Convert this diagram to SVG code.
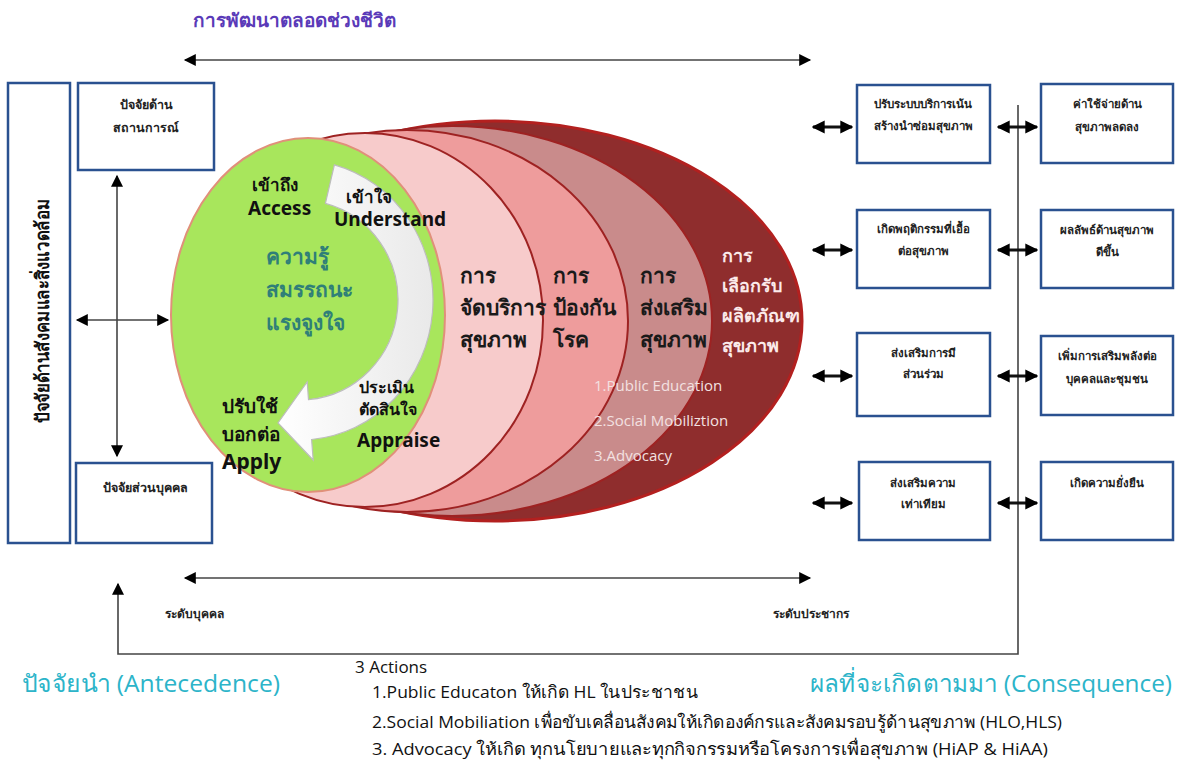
<svg xmlns="http://www.w3.org/2000/svg" width="1179" height="764" viewBox="0 0 1179 764">
<defs>
<style>
.box{fill:#fff;stroke:#2a5190;stroke-width:2.5}
.bt{font-family:"Noto Sans","DejaVu Sans",sans-serif;font-size:11.5px;font-weight:bold;fill:#222;text-anchor:middle}
.lb{font-family:"Noto Sans","DejaVu Sans",sans-serif;font-size:12.5px;font-weight:bold;fill:#222;text-anchor:middle}
.ring{font-family:"Noto Sans","DejaVu Sans",sans-serif;font-size:21px;font-weight:bold;fill:#1a1a1a}
.ringw{font-family:"Noto Sans","DejaVu Sans",sans-serif;font-size:18px;font-weight:bold;fill:#fbeaea}
.act{font-family:"Open Sans","Noto Sans",sans-serif;font-size:15px;fill:#f3e1e1}
.gk{font-family:"Noto Sans","DejaVu Sans",sans-serif;font-weight:bold;fill:#111}
.teal{font-family:"Noto Sans","DejaVu Sans",sans-serif;font-size:21px;font-weight:bold;fill:#2f7f78}
.bot{font-family:"Open Sans","Noto Sans",sans-serif;font-size:17px;fill:#111}
.big{font-family:"Open Sans","Noto Sans",sans-serif;font-size:24px;fill:#2cb4c9}
.lvl{font-family:"Noto Sans","DejaVu Sans",sans-serif;font-size:12px;font-weight:bold;fill:#222}
.thin{stroke:#444;stroke-width:1.6;fill:none}
.dbl{stroke:#111;stroke-width:3;fill:none}
</style>
<marker id="ah" viewBox="0 0 10 10" refX="9" refY="5" markerWidth="13" markerHeight="12" markerUnits="userSpaceOnUse" orient="auto-start-reverse"><path d="M0,0 L10,5 L0,10 z" fill="#000"/></marker>
<marker id="ah2" viewBox="0 0 10 10" refX="9" refY="5" markerWidth="13" markerHeight="14" markerUnits="userSpaceOnUse" orient="auto-start-reverse"><path d="M0,0 L10,5 L0,10 z" fill="#000"/></marker>
<linearGradient id="arrowg" x1="0" y1="0" x2="1" y2="0"><stop offset="0" stop-color="#ffffff"/><stop offset="1" stop-color="#e9e9e9"/></linearGradient>
</defs>

<!-- title -->
<text x="193" y="27" font-family="Noto Sans, DejaVu Sans, sans-serif" font-size="19" font-weight="bold" fill="#5a3ab8">การพัฒนาตลอดช่วงชีวิต</text>

<g id="connectors">
<line x1="185" y1="60" x2="810" y2="60" class="thin" stroke="#222" marker-start="url(#ah)" marker-end="url(#ah)"/>
<line x1="185" y1="578" x2="810" y2="578" class="thin" stroke="#222" marker-start="url(#ah)" marker-end="url(#ah)"/>
<line x1="117" y1="176" x2="117" y2="456" class="thin" marker-start="url(#ah)" marker-end="url(#ah)"/>
<line x1="77" y1="320" x2="168" y2="320" class="thin" marker-start="url(#ah)" marker-end="url(#ah)"/>
<polyline points="1018,105 1018,654 118,654 118,584" class="thin" marker-end="url(#ah)"/>
<line x1="813" y1="127" x2="852" y2="127" class="dbl" marker-start="url(#ah2)" marker-end="url(#ah2)"/>
<line x1="813" y1="250" x2="852" y2="250" class="dbl" marker-start="url(#ah2)" marker-end="url(#ah2)"/>
<line x1="813" y1="376" x2="852" y2="376" class="dbl" marker-start="url(#ah2)" marker-end="url(#ah2)"/>
<line x1="813" y1="503" x2="852" y2="503" class="dbl" marker-start="url(#ah2)" marker-end="url(#ah2)"/>
<line x1="998" y1="127" x2="1037" y2="127" class="dbl" marker-start="url(#ah2)" marker-end="url(#ah2)"/>
<line x1="998" y1="250" x2="1037" y2="250" class="dbl" marker-start="url(#ah2)" marker-end="url(#ah2)"/>
<line x1="998" y1="376" x2="1037" y2="376" class="dbl" marker-start="url(#ah2)" marker-end="url(#ah2)"/>
<line x1="998" y1="503" x2="1037" y2="503" class="dbl" marker-start="url(#ah2)" marker-end="url(#ah2)"/>
</g>

<!-- left nodes -->
<g id="env">
<rect x="8" y="83" width="62" height="460" class="box"/>
<text transform="translate(49,311) rotate(-90)" text-anchor="middle" font-family="Noto Sans, DejaVu Sans, sans-serif" font-size="19" font-weight="bold" fill="#111" textLength="224" lengthAdjust="spacingAndGlyphs">ปัจจัยด้านสังคมและสิ่งแวดล้อม</text>
</g>
<g id="situation">
<rect x="78" y="83" width="136" height="87" class="box"/>
<text x="146" y="109" class="lb">ปัจจัยด้าน</text>
<text x="146" y="132" class="lb">สถานการณ์</text>
</g>
<g id="personal">
<rect x="76" y="463" width="136" height="80" class="box"/>
<text x="145" y="492" class="lb">ปัจจัยส่วนบุคคล</text>
</g>

<!-- central rings -->
<g id="ring-outer">
<ellipse cx="495" cy="321" rx="307" ry="200" fill="#8f2d2d" stroke="#b3201f" stroke-width="3"/>
<text class="ringw"><tspan x="722" y="262">การ</tspan><tspan x="722" y="292">เลือกรับ</tspan><tspan x="722" y="322">ผลิตภัณฑ</tspan><tspan x="722" y="352">สุขภาพ</tspan></text>
</g>
<g id="ring-promote">
<ellipse cx="452" cy="321" rx="260" ry="195" fill="#c98b8b" stroke="#9e2222" stroke-width="2"/>
<text class="ring"><tspan x="640" y="283">การ</tspan><tspan x="640" y="315">ส่งเสริม</tspan><tspan x="640" y="347">สุขภาพ</tspan></text>
</g>
<g id="ring-prevent">
<ellipse cx="407" cy="321" rx="221" ry="191" fill="#ee9c9c" stroke="#9e2222" stroke-width="2"/>
<text class="ring"><tspan x="553" y="283">การ</tspan><tspan x="553" y="315">ป้องกัน</tspan><tspan x="553" y="347">โรค</tspan></text>
</g>
<g id="ring-service">
<ellipse cx="365" cy="320" rx="178" ry="187" fill="#f7cbcb" stroke="#9e2222" stroke-width="2"/>
<text class="ring"><tspan x="460" y="283">การ</tspan><tspan x="460" y="315">จัดบริการ</tspan><tspan x="460" y="347">สุขภาพ</tspan></text>
</g>
<g id="actions-inner">
<text x="594" y="391" class="act">1.Public Education</text>
<text x="594" y="426" class="act">2.Social Mobiliztion</text>
<text x="594" y="461" class="act">3.Advocacy</text>
</g>
<g id="core">
<ellipse cx="308" cy="315" rx="137" ry="177" fill="#a8e65c" stroke="#e0907a" stroke-width="2"/>
<path d="M334.4,164.8 A133,140 0 0 1 311.6,439.5 L313.2,460 L278,423 L307.2,382 L308.5,399.6 A98,100 0 0 0 325.4,203.4 Z" fill="url(#arrowg)" stroke="#bdbdbd" stroke-width="1.2"/>
<text x="252" y="191" class="gk" font-size="17">เข้าถึง</text>
<text x="248" y="215" class="gk" font-size="19">Access</text>
<text x="346" y="203" class="gk" font-size="17">เข้าใจ</text>
<text x="334" y="226" class="gk" font-size="19">Understand</text>
<text class="teal"><tspan x="266" y="264">ความรู้</tspan><tspan x="266" y="297">สมรรถนะ</tspan><tspan x="266" y="330">แรงจูงใจ</tspan></text>
<text x="359" y="393" class="gk" font-size="16">ประเมิน</text>
<text x="359" y="415" class="gk" font-size="16">ตัดสินใจ</text>
<text x="357" y="447" class="gk" font-size="19">Appraise</text>
<text x="222" y="413" class="gk" font-size="19">ปรับใช้</text>
<text x="222" y="441" class="gk" font-size="19">บอกต่อ</text>
<text x="222" y="469" class="gk" font-size="21">Apply</text>
</g>

<!-- level labels -->
<text x="165" y="618" class="lvl">ระดับบุคคล</text>
<text x="773" y="618" class="lvl">ระดับประชากร</text>

<!-- right nodes -->
<g id="r1c1"><rect x="857" y="85" width="133" height="78" class="box"/><text x="923" y="108" class="bt">ปรับระบบบริการเน้น</text><text x="923" y="130" class="bt">สร้างนำซ่อมสุขภาพ</text></g>
<g id="r2c1"><rect x="857" y="210" width="133" height="78" class="box"/><text x="923" y="233" class="bt">เกิดพฤติกรรมที่เอื้อ</text><text x="923" y="255" class="bt">ต่อสุขภาพ</text></g>
<g id="r3c1"><rect x="857" y="333" width="133" height="83" class="box"/><text x="923" y="357" class="bt">ส่งเสริมการมี</text><text x="923" y="378" class="bt">ส่วนร่วม</text></g>
<g id="r4c1"><rect x="859" y="462" width="131" height="78" class="box"/><text x="923" y="487" class="bt">ส่งเสริมความ</text><text x="923" y="508" class="bt">เท่าเทียม</text></g>
<g id="r1c2"><rect x="1041" y="84" width="132" height="79" class="box"/><text x="1107" y="108" class="bt">ค่าใช้จ่ายด้าน</text><text x="1107" y="131" class="bt">สุขภาพลดลง</text></g>
<g id="r2c2"><rect x="1041" y="210" width="132" height="78" class="box"/><text x="1107" y="234" class="bt">ผลลัพธ์ด้านสุขภาพ</text><text x="1107" y="256" class="bt">ดีขึ้น</text></g>
<g id="r3c2"><rect x="1041" y="336" width="132" height="79" class="box"/><text x="1107" y="360" class="bt">เพิ่มการเสริมพลังต่อ</text><text x="1107" y="383" class="bt">บุคคลและชุมชน</text></g>
<g id="r4c2"><rect x="1041" y="462" width="132" height="78" class="box"/><text x="1107" y="487" class="bt">เกิดความยั่งยืน</text></g>

<!-- bottom texts -->
<text x="22" y="692" class="big" textLength="258" lengthAdjust="spacingAndGlyphs">ปัจจัยนำ (Antecedence)</text>
<text x="810" y="692" class="big" textLength="362" lengthAdjust="spacingAndGlyphs">ผลที่จะเกิดตามมา (Consequence)</text>
<text x="355" y="673" class="bot">3 Actions</text>
<text x="372" y="698" class="bot" textLength="326" lengthAdjust="spacingAndGlyphs">1.Public Educaton ให้เกิด HL ในประชาชน</text>
<text x="372" y="728" class="bot" textLength="690" lengthAdjust="spacingAndGlyphs">2.Social Mobiliation เพื่อขับเคลื่อนสังคมให้เกิดองค์กรและสังคมรอบรู้ด้านสุขภาพ (HLO,HLS)</text>
<text x="372" y="755" class="bot" textLength="676" lengthAdjust="spacingAndGlyphs">3. Advocacy ให้เกิด ทุกนโยบายและทุกกิจกรรมหรือโครงการเพื่อสุขภาพ (HiAP &amp; HiAA)</text>
</svg>
